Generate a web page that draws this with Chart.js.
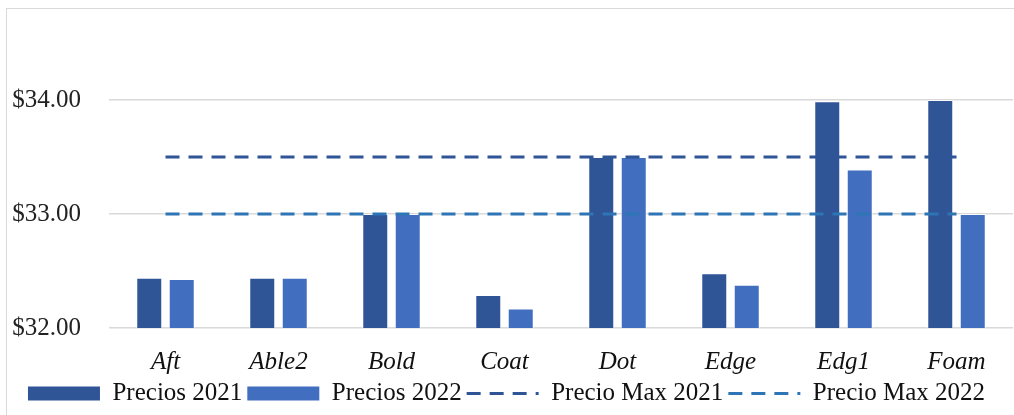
<!DOCTYPE html>
<html lang="es">
<head>
  <meta charset="UTF-8" />
  <title>Precios 2021 vs 2022</title>
  <script src="https://cdn.jsdelivr.net/npm/chart.js"></script>
  <style>
    body { margin:0; background:#fff; }
    .wrap { position:relative; width:1014px; height:415px; overflow:hidden; }
    .frame { position:absolute; left:6px; top:8px; width:1020px; height:420px; border:1.5px solid #d9d9d9; }
    canvas { position:absolute; left:0; top:0; }
  </style>
</head>
<body>
  <div class="wrap">
    <div class="frame"></div>
    <canvas id="precios" width="1014" height="415"></canvas>
  </div>

  <script>
    const productos = ["Aft", "Able2", "Bold", "Coat", "Dot", "Edge", "Edg1", "Foam"];
    const precios2021 = [32.44, 32.44, 33.00, 32.29, 33.50, 32.48, 33.99, 34.00];
    const precios2022 = [32.43, 32.44, 33.00, 32.17, 33.50, 32.38, 33.39, 33.00];
    const precioMax2021 = [33.5, 33.5, 33.5, 33.5, 33.5, 33.5, 33.5, 33.5];
    const precioMax2022 = [33.0, 33.0, 33.0, 33.0, 33.0, 33.0, 33.0, 33.0];
    const yTicks = [32, 33, 34];

    const serif = "'Liberation Serif', 'Times New Roman', serif";

    new Chart(document.getElementById("precios"), {
      type: 'bar',
      data: {
        labels: productos,
        datasets: [
          { label: "Precios 2021", data: precios2021, backgroundColor: "#2F5597",
            borderColor: "rgba(255,255,255,0.7)", borderWidth: 1,
            categoryPercentage: 0.575, barPercentage: 0.8 },
          { label: "Precios 2022", data: precios2022, backgroundColor: "#416EBF",
            borderColor: "rgba(255,255,255,0.7)", borderWidth: 1,
            categoryPercentage: 0.575, barPercentage: 0.8 },
          { type: 'line', label: "Precio Max 2021", data: precioMax2021, order: -1,
            borderColor: "#2F5597", borderWidth: 3, borderDash: [14, 9],
            pointRadius: 0, fill: false },
          { type: 'line', label: "Precio Max 2022", data: precioMax2022, order: -1,
            borderColor: "#2E75B6", borderWidth: 3, borderDash: [14, 9],
            pointRadius: 0, fill: false }
        ]
      },
      options: {
        responsive: false,
        animation: false,
        layout: { padding: { top: 24, right: 1, bottom: -1, left: 0 } },
        scales: {
          x: {
            grid: { display: false },
            border: { display: false },
            afterFit: s => { s.height = 48; },
            ticks: { color: "#111", padding: 11, font: { family: serif, size: 25, style: 'italic' } }
          },
          y: {
            min: 32, max: 34.5,
            afterBuildTicks: s => { s.ticks = yTicks.map(v => ({ value: v })); },
            afterFit: s => { s.width = 109; },
            grid: { color: "#d9d9d9", lineWidth: 1.5, drawTicks: false },
            border: { display: false },
            ticks: { color: "#222", padding: 28, font: { family: serif, size: 25 },
                     callback: v => "$" + Number(v).toFixed(2) }
          }
        },
        plugins: {
          tooltip: { enabled: false },
          legend: {
            position: 'bottom',
            labels: {
              color: "#111",
              font: { family: serif, size: 25 },
              usePointStyle: true,
              pointStyleWidth: 72,
              boxHeight: 14,
              padding: 5,
              generateLabels(chart) {
                const items = Chart.defaults.plugins.legend.labels.generateLabels(chart);
                items.forEach(it => {
                  const ds = chart.data.datasets[it.datasetIndex];
                  if (ds.type === 'line') {
                    it.pointStyle = 'line';
                    it.lineWidth = 3;
                    it.lineDash = ds.borderDash;
                    it.strokeStyle = ds.borderColor;
                  } else {
                    it.pointStyle = 'rect';
                    it.lineWidth = 0;
                    it.fillStyle = ds.backgroundColor;
                  }
                });
                return items.sort((a, b) => a.datasetIndex - b.datasetIndex);
              }
            }
          }
        }
      }
    });
  </script>
</body>
</html>
